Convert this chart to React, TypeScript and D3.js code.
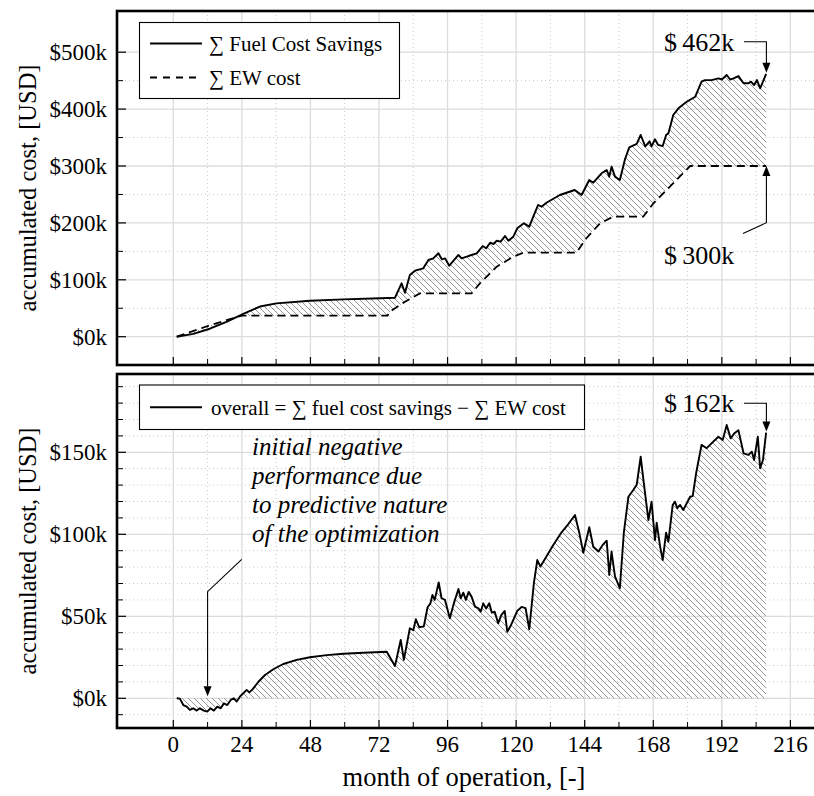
import React from "react";
import * as d3 from "d3";

// ---------------- data (k USD) ----------------
const fuelMonths = [1.2, 7, 12.8, 18.6, 24.5, 30.3, 36.1, 47.8, 59.5, 72.4, 77.6, 79.9, 81.1, 82.8, 84.6, 87.5, 89.3, 91, 92.8, 94, 95.1, 96.6, 99.8, 100.9, 102.7, 104.4, 106.2, 108.3, 109.5, 110.9, 112.1, 113.2, 114.6, 116.1, 117.3, 119, 120.4, 122.7, 124.6, 126, 127.7, 128.9, 130.6, 135.3, 140.5, 142.9, 145.6, 147, 149.9, 151.7, 152.6, 153.4, 154.6, 156.3, 158.1, 159.6, 162.2, 163.6, 165.2, 166.7, 167.4, 168.6, 169.7, 171.3, 172.5, 173.3, 175, 176.8, 179.7, 182.7, 184.9, 186.1, 188.4, 190.8, 192, 193.7, 194.9, 196.1, 197.8, 199.6, 201.3, 202.2, 203.3, 204.3, 205.4, 206.4, 207.5];
const fuelValues = [0, 5, 14, 26, 40, 53, 58.5, 63.3, 65.6, 67.5, 68.5, 93.8, 77.3, 108.4, 116, 120.2, 134.8, 137.7, 146.6, 136, 137.7, 124.8, 143.6, 137.7, 140.6, 143.6, 146.6, 159.4, 155.3, 165.2, 162.9, 168.7, 167, 177, 168.7, 175.8, 190.5, 199.3, 193.4, 211, 231.5, 228.5, 235.5, 249, 257.8, 249, 275.4, 270.7, 287.2, 293, 281.3, 298.8, 281.3, 275.4, 311.8, 332.8, 338.7, 354.5, 334.6, 343.4, 334.6, 347, 337, 335, 354.5, 357.5, 389.6, 401.4, 413, 421.8, 448.2, 451, 451, 454, 452, 460, 452, 454, 458, 445.3, 445.3, 448.2, 442.3, 451, 436.6, 448.2, 462];

const ewMonths = [1.2, 5.8, 12.8, 18.6, 24, 75, 75.8, 81.1, 86.3, 104.4, 107.3, 113.2, 119, 122.5, 141.1, 144.6, 149.3, 154, 164.5, 168, 172.7, 177.4, 180.9, 207.5];
const ewValues = [0, 8, 20, 29, 37, 37, 44, 61.5, 76, 76, 93.8, 123, 140.6, 147.6, 147.6, 173, 199, 211, 211, 234, 258, 282, 300, 300];

const overallMonths = [1.2, 2.3, 3.5, 4.7, 5.8, 7, 8.2, 9.3, 10.7, 11.9, 13, 14.2, 15.4, 16.6, 17.7, 18.9, 20.1, 21.2, 22.2, 23.3, 24.5, 25.7, 26.6, 27.8, 29.8, 32.1, 35, 38.5, 43.2, 47.8, 53.7, 59.5, 66.5, 74.7, 77.6, 79.6, 80.7, 82.8, 84, 84.9, 86.1, 87.7, 89, 90, 90.7, 91.5, 92.9, 93.9, 95.1, 96.8, 98.2, 99.8, 100.6, 101.5, 102.4, 103.4, 104.4, 105.6, 106.8, 107.6, 108.5, 109.5, 110.6, 111.5, 112.5, 113.7, 114.8, 116, 116.9, 118, 120.4, 121.9, 123.3, 124.6, 126.2, 127.4, 128.5, 130.6, 133, 135.9, 138.2, 140.6, 142.1, 143.5, 145.6, 147, 148.8, 150.3, 151.7, 152.6, 153.4, 154.6, 156.3, 157.7, 159.3, 161, 162.2, 163.6, 164.7, 166.3, 167.4, 168.6, 169.2, 170.4, 171.3, 172.5, 173.3, 174.8, 175.6, 176.4, 177.4, 178.5, 180.9, 181.8, 183, 184.9, 186.7, 189, 190.8, 192.3, 193.7, 195.1, 196.3, 197.8, 199.6, 201.3, 202.5, 203.3, 204.6, 205.4, 206.4, 207.5];
const overallValues = [0, -0.2, -4.1, -5.1, -7.1, -6.1, -7.5, -6.1, -7.5, -8.1, -6.1, -7.5, -5.1, -6.1, -3.1, -4.1, -1, 0, -2, 1, 3.1, 5.1, 3.6, 5.6, 10.1, 14.2, 17.7, 20.9, 23.4, 25, 26.3, 27.2, 27.8, 28.4, 19.7, 35.6, 23.4, 42.7, 41.5, 48.2, 43.3, 43.9, 55.5, 57.9, 63, 60, 70.7, 61, 60, 48.8, 57.9, 66.7, 61, 64.4, 60, 64.9, 62, 55.9, 54.9, 52.8, 57.9, 54.7, 57.9, 52.2, 52.8, 45.7, 50.7, 53.3, 40.6, 43.9, 53.3, 55.7, 55, 42.1, 70.1, 84.3, 80.3, 86.4, 93.5, 101.2, 106.1, 111.8, 101, 88.8, 104.3, 92.4, 89.5, 93.5, 96.1, 75.2, 89.5, 74.3, 67.1, 101, 122.9, 127, 130.2, 147.3, 131.1, 108.7, 119.9, 96.5, 107, 92.5, 84.3, 101, 95.5, 117.9, 119.9, 115.9, 117.9, 114.8, 122.9, 123.3, 137.2, 154.5, 152.5, 156.5, 159.5, 157.5, 166.7, 158.5, 161.5, 163.5, 149.4, 148.4, 150.4, 145.3, 159.5, 140.3, 145.3, 162];

const xMajorTicks = [0, 24, 48, 72, 96, 120, 144, 168, 192, 216];
const xMinorTicks = [12, 36, 60, 84, 108, 132, 156, 180, 204];
const topMajorTicks = [0, 100, 200, 300, 400, 500];
const topMinorTicks = [50, 150, 250, 350, 450];
const botMajorTicks = [0, 50, 100, 150];
const botMinorTicks = [-10, 10, 20, 30, 40, 60, 70, 80, 90, 110, 120, 130, 140, 160, 170, 180, 190];

const topLegend = ["∑ Fuel Cost Savings", "∑ EW cost"];
const botLegend = "overall = ∑ fuel cost savings − ∑ EW cost";
const noteLines = ["initial negative", "performance due", "to predictive nature", "of the optimization"];
const noteMonth = 12;
const finalFuel = 462;
const finalEW = 300;
const finalOverall = 162;
const finalMonth = 207.6;

// ---------------- layout ----------------
const W = 814;
const H = 796;
const FONT = "'Liberation Serif', 'Times New Roman', serif";
const P1 = { left: 117, right: 840, top: 11, bottom: 365 };
const P2 = { left: 117, right: 840, top: 374, bottom: 728 };

const x = d3.scaleLinear().domain([0, 216]).range([173.3, 790.4]);
const y1 = d3.scaleLinear().domain([0, 500]).range([336.7, 52.2]);
const y2 = d3.scaleLinear().domain([0, 150]).range([698.3, 452.3]);

const fuelPts: [number, number][] = fuelMonths.map((m, i) => [m, fuelValues[i]]);
const ewPts: [number, number][] = ewMonths.map((m, i) => [m, ewValues[i]]);
const ovPts: [number, number][] = overallMonths.map((m, i) => [m, overallValues[i]]);

const line1 = d3.line<[number, number]>().x((d) => x(d[0])).y((d) => y1(d[1]));
const line2 = d3.line<[number, number]>().x((d) => x(d[0])).y((d) => y2(d[1]));
const area2 = d3
  .area<[number, number]>()
  .x((d) => x(d[0]))
  .y0(() => y2(0))
  .y1((d) => y2(d[1]));

const betweenPath = line1([...fuelPts, ...ewPts.slice().reverse()]) + "Z";

function Grid({ P, y, major, minor }: any) {
  return (
    <g>
      {xMinorTicks.map((t) => (
        <line key={"xm" + t} x1={x(t)} x2={x(t)} y1={P.top} y2={P.bottom} stroke="#c8c8c8" strokeWidth={1} strokeDasharray="1,3" />
      ))}
      {minor.map((t: number) => (
        <line key={"ym" + t} x1={P.left} x2={P.right} y1={y(t)} y2={y(t)} stroke="#c8c8c8" strokeWidth={1} strokeDasharray="1,3" />
      ))}
      {xMajorTicks.map((t) => (
        <line key={"xM" + t} x1={x(t)} x2={x(t)} y1={P.top} y2={P.bottom} stroke="#dcdcdc" strokeWidth={1.3} />
      ))}
      {major.map((t: number) => (
        <line key={"yM" + t} x1={P.left} x2={P.right} y1={y(t)} y2={y(t)} stroke="#dcdcdc" strokeWidth={1.3} />
      ))}
    </g>
  );
}

function Axes({ P, y, major, minor, fmt }: any) {
  return (
    <g>
      {xMajorTicks.map((t) => (
        <line key={"xt" + t} x1={x(t)} x2={x(t)} y1={P.bottom} y2={P.bottom - 8} stroke="#000" strokeWidth={1.2} />
      ))}
      {xMinorTicks.map((t) => (
        <line key={"xtm" + t} x1={x(t)} x2={x(t)} y1={P.bottom} y2={P.bottom - 6} stroke="#000" strokeWidth={1} />
      ))}
      {major.map((t: number) => (
        <g key={"yt" + t}>
          <line x1={P.left} x2={P.left + 9} y1={y(t)} y2={y(t)} stroke="#000" strokeWidth={1.2} />
          <text x={107} y={y(t)} dy="0.35em" textAnchor="end" fontSize={23} fontFamily={FONT}>
            {fmt(t)}
          </text>
        </g>
      ))}
      {minor.map((t: number) => (
        <line key={"ytm" + t} x1={P.left} x2={P.left + 6} y1={y(t)} y2={y(t)} stroke="#000" strokeWidth={1} />
      ))}
      <rect x={P.left} y={P.top} width={P.right - P.left} height={P.bottom - P.top} fill="none" stroke="#000" strokeWidth={2.6} />
    </g>
  );
}

function Arrow({ x0, y0, dir }: { x0: number; y0: number; dir: "down" | "up" }) {
  const h = 10;
  const w = 4;
  const d =
    dir === "down"
      ? `M${x0},${y0} L${x0 - w},${y0 - h} L${x0 + w},${y0 - h} Z`
      : `M${x0},${y0} L${x0 - w},${y0 + h} L${x0 + w},${y0 + h} Z`;
  return <path d={d} fill="#000" />;
}

export default function App() {
  const fmt = (v: number) => `$${v}k`;
  const xe = x(finalMonth);
  return (
    <svg width={W} height={H} style={{ position: "absolute", left: 0, top: 0, background: "#fff" }}>
      <defs>
        <pattern id="hatch" patternUnits="userSpaceOnUse" width={6} height={6}>
          <path d="M-1,-1 L7,7 M-1,5 L1,7 M5,-1 L7,1" stroke="#8a8a8a" strokeWidth={0.9} />
        </pattern>
        <clipPath id="c1">
          <rect x={P1.left} y={P1.top} width={P1.right - P1.left} height={P1.bottom - P1.top} />
        </clipPath>
        <clipPath id="c2">
          <rect x={P2.left} y={P2.top} width={P2.right - P2.left} height={P2.bottom - P2.top} />
        </clipPath>
      </defs>
      <rect x={0} y={0} width={W} height={H} fill="#fff" />

      {/* ---------- top panel ---------- */}
      <Grid P={P1} y={y1} major={topMajorTicks} minor={topMinorTicks} />
      <g clipPath="url(#c1)">
        <path d={betweenPath} fill="url(#hatch)" stroke="none" />
        <path d={line1(ewPts) || ""} fill="none" stroke="#000" strokeWidth={1.8} strokeDasharray="8,5" />
        <path d={line1(fuelPts) || ""} fill="none" stroke="#000" strokeWidth={1.9} strokeLinejoin="round" />
      </g>
      <Axes P={P1} y={y1} major={topMajorTicks} minor={topMinorTicks} fmt={fmt} />

      {/* legend top */}
      <rect x={139.5} y={22.5} width={260} height={76} fill="#fff" stroke="#000" strokeWidth={1.1} />
      <line x1={150} x2={202} y1={43.5} y2={43.5} stroke="#000" strokeWidth={1.9} />
      <text x={209} y={50.5} fontSize={21} fontFamily={FONT}>{topLegend[0]}</text>
      <line x1={150} x2={202} y1={77.5} y2={77.5} stroke="#000" strokeWidth={1.8} strokeDasharray="7,6" />
      <text x={209} y={84.5} fontSize={21} fontFamily={FONT}>{topLegend[1]}</text>

      {/* annotations top */}
      <text x={664} y={51} fontSize={26} fontFamily={FONT}>{`$\u2009${finalFuel}k`}</text>
      <path d={`M${744},${41.7} L${xe},${41.7} L${xe},${y1(finalFuel) - 10}`} fill="none" stroke="#000" strokeWidth={1.1} />
      <Arrow x0={xe} y0={y1(finalFuel) - 1} dir="down" />
      <text x={664} y={264} fontSize={26} fontFamily={FONT}>{`$\u2009${finalEW}k`}</text>
      <path d={`M${743},${233.5} L${xe},${222.7} L${xe},${y1(finalEW) + 10}`} fill="none" stroke="#000" strokeWidth={1.1} />
      <Arrow x0={xe} y0={y1(finalEW)} dir="up" />

      {/* ---------- bottom panel ---------- */}
      <Grid P={P2} y={y2} major={botMajorTicks} minor={botMinorTicks} />
      <g clipPath="url(#c2)">
        <path d={area2(ovPts) || ""} fill="url(#hatch)" stroke="none" />
        <path d={line2(ovPts) || ""} fill="none" stroke="#000" strokeWidth={1.9} strokeLinejoin="round" />
      </g>
      <Axes P={P2} y={y2} major={botMajorTicks} minor={botMinorTicks} fmt={fmt} />

      {/* legend bottom */}
      <rect x={139.5} y={385} width={445} height={44.5} fill="#fff" stroke="#000" strokeWidth={1.1} />
      <line x1={150} x2={202} y1={407.3} y2={407.3} stroke="#000" strokeWidth={1.9} />
      <text x={211} y={414.5} fontSize={21} fontFamily={FONT}>{botLegend}</text>

      {/* bottom annotations */}
      <text x={664} y={412} fontSize={26} fontFamily={FONT}>{`$\u2009${finalOverall}k`}</text>
      <path d={`M${744},${403.3} L${xe},${403.3} L${xe},${y2(finalOverall) - 10}`} fill="none" stroke="#000" strokeWidth={1.1} />
      <Arrow x0={xe} y0={y2(finalOverall) - 1} dir="down" />

      {noteLines.map((s, i) => (
        <text key={s} x={252} y={455 + i * 29} fontSize={25} fontStyle="italic" fontFamily={FONT}>
          {s}
        </text>
      ))}
      <path d={`M${241.7},${559.3} L${x(noteMonth)},${591.7} L${x(noteMonth)},${y2(0) - 12}`} fill="none" stroke="#000" strokeWidth={1.1} />
      <Arrow x0={x(noteMonth)} y0={y2(0) - 2} dir="down" />

      {/* x tick labels */}
      {xMajorTicks.map((t) => (
        <text key={"xl" + t} x={x(t)} y={752} textAnchor="middle" fontSize={23} fontFamily={FONT}>
          {t}
        </text>
      ))}
      <text x={464} y={786} textAnchor="middle" fontSize={26.5} fontFamily={FONT}>month of operation, [-]</text>
      <text transform={`translate(36,188) rotate(-90)`} textAnchor="middle" fontSize={24.5} fontFamily={FONT}>accumulated cost, [USD]</text>
      <text transform={`translate(36,551) rotate(-90)`} textAnchor="middle" fontSize={24.5} fontFamily={FONT}>accumulated cost, [USD]</text>
    </svg>
  );
}
